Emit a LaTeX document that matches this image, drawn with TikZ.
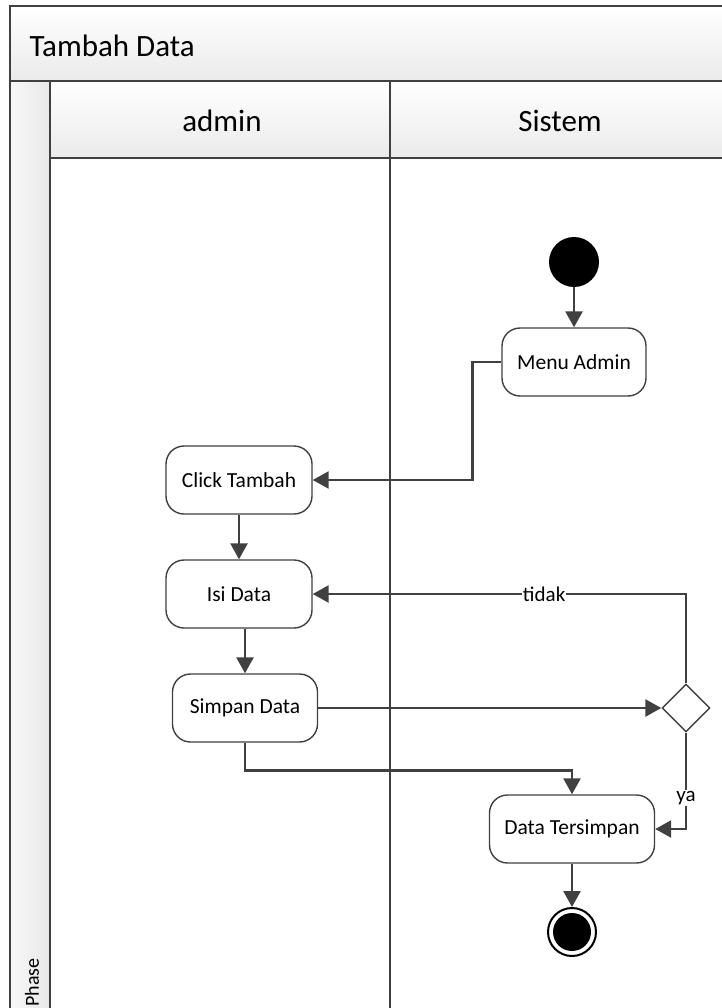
\documentclass[tikz,border=0pt]{standalone}
\usepackage{fontspec}
\setmainfont{Carlito}
\usetikzlibrary{arrows.meta,shapes.geometric}
\definecolor{ink}{HTML}{404040}
\begin{document}
\begin{tikzpicture}[x=1pt,y=-1pt,
  frame/.style={draw=ink,line width=1.6pt},
  act/.style={draw=ink,line width=1.4pt,rounded corners=18pt,fill=white,
    minimum height=68pt,inner sep=0pt,font=\fontsize{21.5}{24}\selectfont},
  flow/.style={draw=ink,line width=2.6pt,-{Triangle[length=16pt,width=17pt]}},
  guard/.style={fill=white,inner sep=1pt,font=\fontsize{21}{24}\selectfont},
  header/.style={font=\fontsize{31}{36}\selectfont}
]
\path[use as bounding box] (0,0) rectangle (721,1008);

% swimlane frame
\shade[top color=white,bottom color=black!8] (10,6) rectangle (725,81);
\shade[top color=white,bottom color=black!8] (50,81) rectangle (725,158);
\shade[left color=black!3,right color=black!9] (10,81) rectangle (50,1012);
\draw[frame] (725,6) -- (10,6) -- (10,1012);
\draw[frame] (10,81) -- (725,81);
\draw[frame] (50,81) -- (50,1012);
\draw[frame] (50,158) -- (725,158);
\draw[frame] (390,81) -- (390,1012);

\node[header,anchor=west] (title) at (26,46) {Tambah Data};
\node[header] (admin) at (222,121) {admin};
\node[header] (sistem) at (560,121) {Sistem};
\node[rotate=90,anchor=west,inner sep=1pt,font=\fontsize{20}{22}\selectfont] (phase) at (32,1008) {Phase};

% activity nodes
\node[circle,fill=black,minimum size=50pt,inner sep=0pt] (start) at (574,262) {};
\node[act,minimum width=144pt] (menu) at (574,362) {Menu Admin};
\node[act,minimum width=146pt] (click) at (239,480) {Click Tambah};
\node[act,minimum width=146pt] (isi) at (239,594) {Isi Data};
\node[act,minimum width=145pt] (simpan) at (245,708) {Simpan Data};
\node[diamond,draw=ink,line width=1.4pt,fill=white,minimum size=48pt,inner sep=0pt] (dec) at (686,708) {};
\node[act,minimum width=165pt] (tersimpan) at (572,829) {Data Tersimpan};
\node[circle,draw=black,line width=2pt,fill=white,minimum size=48pt,inner sep=0pt] (end) at (572,932) {};
\fill[black] (end.center) circle (19);

% control flow
\draw[flow] (start) -- (menu);
\draw[flow] (menu.west) -- ++(-29,0) |- (click.east);
\draw[flow] (click) -- (isi);
\draw[flow] (simpan.north |- isi.south) -- (simpan.north);
\draw[flow] (simpan) -- (dec);
\draw[flow] (dec.north) |- node[guard,pos=0.69] {tidak} (isi.east);
\draw[flow] (dec.south) |- node[guard,pos=0.34] {ya} (tersimpan.east);
\draw[flow] (simpan.south) -- ++(0,28) -| (tersimpan.north);
\draw[flow] (tersimpan) -- (end);
\end{tikzpicture}
\end{document}
